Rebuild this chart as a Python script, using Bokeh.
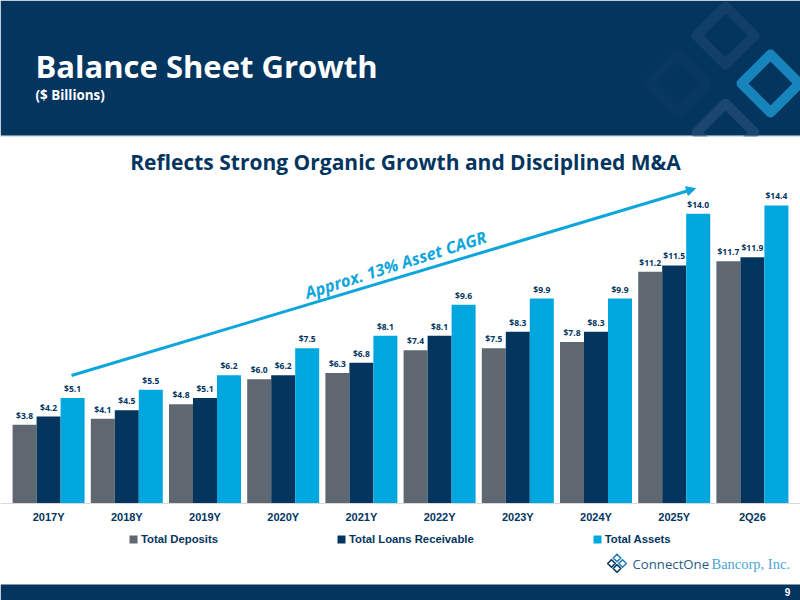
from bokeh.embed import file_html
from bokeh.resources import INLINE
from bokeh.models import (ColumnDataSource, FactorRange, Range1d, BoxAnnotation, PolyAnnotation,
                          Label, Arrow, NormalHead, Legend, LegendItem, CategoricalAxis)
from bokeh.plotting import figure
from bokeh.transform import dodge

categories = ["2017Y", "2018Y", "2019Y", "2020Y", "2021Y", "2022Y", "2023Y", "2024Y", "2025Y", "2Q26"]
total_deposits = [3.8, 4.1, 4.8, 6.0, 6.3, 7.4, 7.5, 7.8, 11.2, 11.7]
total_loans = [4.2, 4.5, 5.1, 6.2, 6.8, 8.1, 8.3, 8.3, 11.5, 11.9]
total_assets = [5.1, 5.5, 6.2, 7.5, 8.1, 9.6, 9.9, 9.9, 14.0, 14.4]
series_names = ["Total Deposits", "Total Loans Receivable", "Total Assets"]

NAVY = "#03355f"
GREY = "#5f6771"
BLUE = "#00a7df"
W, H = 800, 600
BASE = 503
PX_PER_UNIT = 20.7

p = figure(width=W, height=H, output_backend="svg", toolbar_location=None,
           x_axis_location=None, y_axis_location=None,
           x_range=FactorRange(*categories, range_padding=0.115, range_padding_units="absolute", factor_padding=0),
           y_range=Range1d(-(H - BASE) / PX_PER_UNIT, BASE / PX_PER_UNIT),
           min_border=0, outline_line_color=None)
p.xgrid.visible = False
p.ygrid.visible = False
p.background_fill_color = "white"
p.border_fill_color = "white"

def box(l, r, t, b, color):
    return BoxAnnotation(left=l, right=r, top=t, bottom=b, left_units="canvas", right_units="canvas",
                         top_units="canvas", bottom_units="canvas", fill_color=color, fill_alpha=1,
                         line_color=None, level="underlay", editable=False)

def diamond(cx, cy, r, color, lw, level="underlay"):
    xs = [cx - r, cx, cx + r, cx]
    ys = [cy, cy - r, cy, cy + r]
    return PolyAnnotation(xs=xs, ys=ys, xs_units="canvas", ys_units="canvas", fill_alpha=0,
                          line_color=color, line_alpha=1, line_width=lw, line_join="round", level=level)

p.add_layout(box(0, 800, 0, 135, NAVY))
p.add_layout(diamond(725, 35, 29, "#123f68", 10))
p.add_layout(diamond(677, 83, 29, "#083860", 10))
p.add_layout(diamond(725, 132, 29, "#1a4670", 10))
p.add_layout(diamond(770, 83, 29, "#1784bb", 10))
p.add_layout(box(0, 800, 135, 136, "#6c8aa5"))
p.add_layout(box(0, 800, 136, 584, "white"))
p.add_layout(box(0, 800, 584, 600, NAVY))

axis = CategoricalAxis(fixed_location=0, axis_line_color="#d9d9d9", axis_line_width=1,
                       major_tick_line_color=None, minor_tick_line_color=None, major_label_standoff=1,
                       major_label_text_font="Liberation Sans", major_label_text_font_style="bold",
                       major_label_text_font_size="11px", major_label_text_color=NAVY)
p.add_layout(axis, "below")

source = ColumnDataSource(dict(
    x=categories, deposits=total_deposits, loans=total_loans, assets=total_assets,
    deposits_txt=[f"${v:.1f}" for v in total_deposits],
    loans_txt=[f"${v:.1f}" for v in total_loans],
    assets_txt=[f"${v:.1f}" for v in total_assets]))

bw = 24 / 78.2
renderers = []
for key, off, color in (("deposits", -bw, GREY), ("loans", 0, NAVY), ("assets", bw, BLUE)):
    xt = dodge("x", off, range=p.x_range)
    r = p.vbar(x=xt, top=key, width=bw, source=source, fill_color=color, line_color=None)
    renderers.append(r)
    p.text(x=xt, y=key, text=f"{key}_txt", source=source, text_align="center", text_baseline="bottom",
           y_offset=-4, text_font={"value": "Open Sans"}, text_font_style="bold", text_font_size="8.5px",
           text_color=NAVY)

legend = Legend(items=[LegendItem(label=n, renderers=[r]) for n, r in zip(series_names, renderers)],
                orientation="horizontal", location=(128, 55), spacing=118, padding=0, margin=0,
                glyph_width=10, glyph_height=10, label_standoff=3, border_line_color=None,
                background_fill_alpha=0, label_text_font="Liberation Sans", label_text_font_style="bold",
                label_text_font_size="11.3px", label_text_color=NAVY, label_height=10)
p.add_layout(legend, "center")

def text(x, y, s, font, size, color, style="bold", align="left", angle=0):
    p.add_layout(Label(x=x, y=y, x_units="canvas", y_units="canvas", text=s, text_font=font,
                       text_font_size=size, text_font_style=style, text_color=color, text_align=align,
                       text_baseline="middle", angle=angle, angle_units="deg"))

text(35, 65, "Balance Sheet Growth", "Open Sans", "31px", "white")
text(35, 94, "($ Billions)", "Open Sans", "13.4px", "white")
text(405, 161, "Reflects Strong Organic Growth and Disciplined M&A", "Open Sans", "21px", NAVY, align="center")
text(395, 264, "Approx. 13% Asset CAGR", "Open Sans", "16.5px", "#0ea5dd", style="bold italic", align="center", angle=17.5)
text(787, 591, "9", "Liberation Sans", "10px", "white", align="center")
text(632, 563, "ConnectOne", "Open Sans", "13.2px", "#2a5d85", style="normal")
text(711, 563, "Bancorp, Inc.", "Liberation Serif", "14.5px", "#4aa6d6", style="normal")

for cx, cy, c in ((616.5, 557.5, "#1f7fb5"), (611, 563, NAVY), (622, 563, "#1f7fb5"), (616.5, 568, NAVY)):
    p.add_layout(diamond(cx, cy, 3.8, c, 1.6, level="overlay"))

p.add_layout(Arrow(x_start=71, y_start=375, x_end=695, y_end=188,
                   start_units="canvas", end_units="canvas", line_color="#0ea5dd", line_width=3,
                   end=NormalHead(size=9, fill_color="#0ea5dd", line_color="#0ea5dd")))

open("out.html", "w").write(file_html(p, INLINE))
